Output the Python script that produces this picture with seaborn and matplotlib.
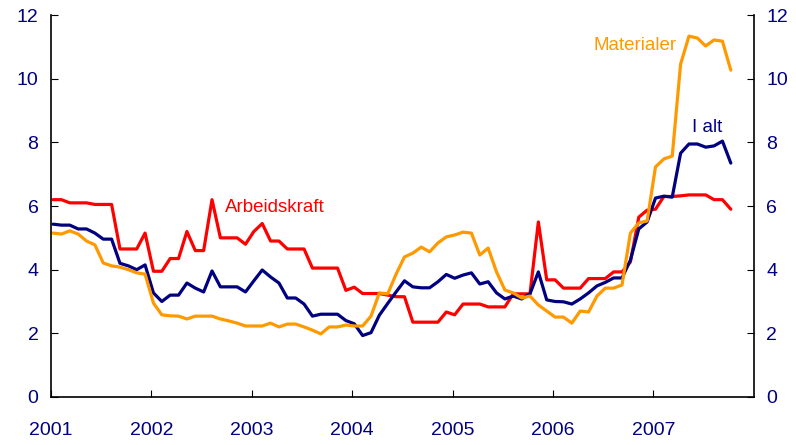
import numpy as np
import pandas as pd
import matplotlib
matplotlib.use("Agg")
import matplotlib.pyplot as plt
import seaborn as sns

# monthly series, Jan 2001 - Oct 2007
arbeidskraft = [6.2, 6.2, 6.1, 6.1, 6.1, 6.05, 6.05, 6.05, 4.65, 4.65, 4.65, 5.15,
                3.95, 3.95, 4.35, 4.35, 5.2, 4.6, 4.6, 6.2, 5.0, 5.0, 5.0, 4.8,
                5.2, 5.45, 4.9, 4.9, 4.65, 4.65, 4.65, 4.05, 4.05, 4.05, 4.05, 3.35,
                3.45, 3.25, 3.25, 3.25, 3.2, 3.15, 3.15, 2.35, 2.35, 2.35, 2.35, 2.67,
                2.58, 2.92, 2.92, 2.92, 2.83, 2.83, 2.83, 3.24, 3.24, 3.24, 5.5, 3.68,
                3.68, 3.42, 3.42, 3.42, 3.72, 3.72, 3.72, 3.93, 3.93, 4.24, 5.65, 5.87,
                5.9, 6.3, 6.3, 6.32, 6.35, 6.35, 6.35, 6.2, 6.2, 5.9]
i_alt = [5.43, 5.4, 5.4, 5.28, 5.28, 5.15, 4.96, 4.96, 4.2, 4.12, 4.0, 4.15,
         3.27, 3.0, 3.2, 3.2, 3.58, 3.42, 3.3, 3.96, 3.46, 3.46, 3.46, 3.3,
         3.65, 3.99, 3.77, 3.58, 3.11, 3.11, 2.92, 2.54, 2.6, 2.6, 2.6, 2.4,
         2.3, 1.93, 2.02, 2.57, 2.94, 3.3, 3.65, 3.46, 3.43, 3.43, 3.62, 3.85,
         3.73, 3.83, 3.9, 3.55, 3.62, 3.27, 3.08, 3.17, 3.08, 3.24, 3.93, 3.05,
         3.0, 2.99, 2.92, 3.08, 3.27, 3.49, 3.6, 3.74, 3.74, 4.3, 5.28, 5.5,
         6.25, 6.31, 6.28, 7.66, 7.95, 7.95, 7.85, 7.89, 8.04, 7.35]
materialer = [5.15, 5.12, 5.22, 5.12, 4.9, 4.78, 4.21, 4.12, 4.08, 4.0, 3.9, 3.86,
              2.95, 2.58, 2.55, 2.54, 2.45, 2.54, 2.54, 2.54, 2.45, 2.39, 2.32, 2.23,
              2.23, 2.23, 2.32, 2.2, 2.29, 2.29, 2.2, 2.1, 1.98, 2.2, 2.2, 2.26,
              2.23, 2.23, 2.54, 3.27, 3.24, 3.86, 4.4, 4.52, 4.71, 4.56, 4.84, 5.03,
              5.09, 5.18, 5.15, 4.46, 4.68, 3.93, 3.36, 3.27, 3.11, 3.17, 2.89, 2.7,
              2.51, 2.51, 2.32, 2.7, 2.67, 3.17, 3.42, 3.42, 3.52, 5.15, 5.47, 5.53,
              7.23, 7.48, 7.57, 10.46, 11.34, 11.28, 11.03, 11.22, 11.18, 10.27]
years = [2001, 2002, 2003, 2004, 2005, 2006, 2007]
y_ticks = [0, 2, 4, 6, 8, 10, 12]

series_names = ["Arbeidskraft", "I alt", "Materialer"]
colors = {"Arbeidskraft": "#ff0000", "I alt": "#000080", "Materialer": "#ff9900"}

n = len(arbeidskraft)
t = 2001 + (np.arange(n) + 0.25) / 12
df = pd.DataFrame({"t": t, "Arbeidskraft": arbeidskraft,
                   "I alt": i_alt, "Materialer": materialer})
long_df = df.melt(id_vars="t", var_name="serie", value_name="verdi")

sns.set_style("white")
plt.rcParams["font.family"] = ["Liberation Sans", "DejaVu Sans"]

fig = plt.figure(figsize=(7.96, 4.45), dpi=100)
ax = fig.add_axes([0.064, 0.108, 0.883, 0.858])

sns.lineplot(data=long_df, x="t", y="verdi", hue="serie", hue_order=series_names,
             palette=colors, linewidth=2.3, legend=False, ax=ax)

ax.set_xlim(2001, 2008)
ax.set_ylim(0, 12)
ax.set_xticks(years)
ax.set_xticklabels([str(y) for y in years])
ax.set_yticks(y_ticks)
ax.set_xlabel("")
ax.set_ylabel("")

# inward ticks, navy tick labels on both sides
ax.tick_params(axis="both", direction="in", colors="black", labelcolor="#000080",
               labelsize=14, length=5, width=0.8)
ax.tick_params(axis="y", left=True, right=True, labelleft=True, labelright=True, pad=9)
ax.tick_params(axis="x", bottom=True, pad=18)

for side in ["left", "right", "bottom"]:
    ax.spines[side].set_visible(True)
    ax.spines[side].set_color("black")
    ax.spines[side].set_linewidth(1.2)
ax.spines["top"].set_visible(False)

# series labels
ax.text(2002.73, 5.95, "Arbeidskraft", color=colors["Arbeidskraft"], fontsize=13.5, va="center")
ax.text(2006.4, 11.03, "Materialer", color=colors["Materialer"], fontsize=13.5, va="center")
ax.text(2007.38, 8.48, "I alt", color=colors["I alt"], fontsize=13.5, va="center")

fig.savefig("out.png", dpi=100)
